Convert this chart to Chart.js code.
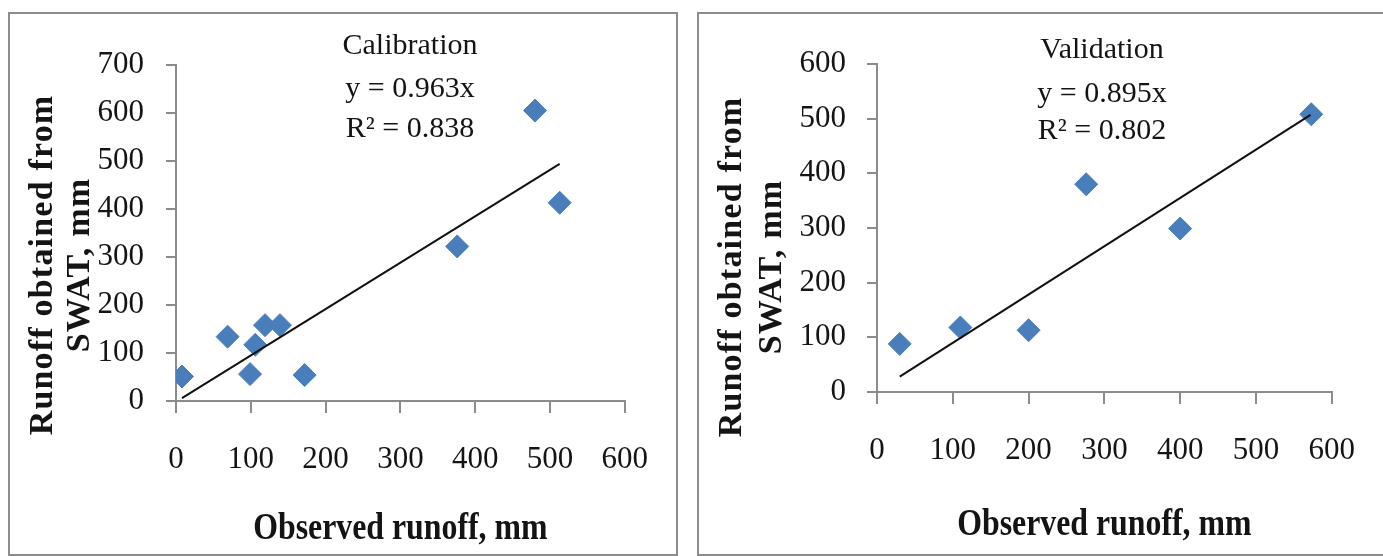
<!DOCTYPE html>
<html>
<head>
<meta charset="utf-8">
<script src="https://cdn.jsdelivr.net/npm/chart.js@4.4.1/dist/chart.umd.min.js"></script>
<style>
  body { margin: 0; background: #fff; width: 1383px; height: 556px; overflow: hidden; position: relative; }
  .panel { position: absolute; top: 12px; height: 540px; border: 2px solid #8c8c8c; background: #fff; }
  #p1 { left: 8px; width: 666px; }
  #p2 { left: 697px; width: 700px; }
  canvas { display: block; }
</style>
</head>
<body>
<div class="panel" id="p1"><canvas id="calibChart" width="666" height="540"></canvas></div>
<div class="panel" id="p2"><canvas id="validChart" width="684" height="540"></canvas></div>
<script>
// calibration data (observed vs SWAT)
const calibObserved  = [8, 69, 99, 106, 119, 139, 172, 376, 480, 513];
const calibSimulated = [51, 134, 56, 117, 158, 158, 54, 322, 605, 413];
const calibTrendX = [8, 513];
const calibTrendY = [6, 494];
const calibYTicks = [0, 100, 200, 300, 400, 500, 600, 700];
const calibText = ['Calibration', 'y = 0.963x', 'R² = 0.838'];

// validation data
const validObserved  = [30, 110, 200, 276, 400, 573];
const validSimulated = [88, 118, 113, 380, 299, 508];
const validTrendX = [30, 572];
const validTrendY = [28, 507];
const validYTicks = [0, 100, 200, 300, 400, 500, 600];
const validText = ['Validation', 'y = 0.895x', 'R² = 0.802'];

const xTicks = [0, 100, 200, 300, 400, 500, 600];
const xTitle = 'Observed runoff, mm';
const yTitle = ['Runoff obtained from', 'SWAT, mm'];

const serif = '"Liberation Serif", "Times New Roman", serif';
const axisGrey = '#8c8c8c';
const textColor = '#141414';

// axis titles + equation text
const panelText = {
    id: 'panelText',
    afterDraw(chart, args, opts) {
        const ctx = chart.ctx;
        const area = chart.chartArea;
        ctx.save();
        ctx.fillStyle = textColor;
        ctx.textAlign = 'center';
        ctx.textBaseline = 'middle';
        ctx.font = '30px ' + serif;
        opts.lines.forEach((t, i) => ctx.fillText(t, opts.cx, opts.ys[i]));

        // x title, a bit condensed like the original
        ctx.save();
        ctx.font = 'bold 37px ' + serif;
        ctx.translate((area.left + area.right) / 2, opts.xTitleY);
        ctx.scale(0.86, 1);
        ctx.fillText(xTitle, 0, 0);
        ctx.restore();

        ctx.font = 'bold 34px ' + serif;
        ctx.letterSpacing = '1.2px';
        opts.yTitle.forEach((t, i) => {
            ctx.save();
            ctx.translate(opts.yTitleX[i], opts.yTitleY);
            ctx.rotate(-Math.PI / 2);
            ctx.fillText(t, 0, 0);
            ctx.restore();
        });
        ctx.restore();
    }
};

function toPoints(xs, ys) {
    return xs.map((x, i) => ({ x: x, y: ys[i] }));
}

function makeChart(id, obs, sim, trendX, trendY, yTicks, text, box) {
    const ctx = document.getElementById(id).getContext('2d');
    return new Chart(ctx, {
        type: 'scatter',
        data: {
            datasets: [{
                type: 'line',
                data: toPoints(trendX, trendY),
                borderColor: '#111',
                borderWidth: 2,
                pointRadius: 0,
                fill: false
            }, {
                data: toPoints(obs, sim),
                pointStyle: 'rectRot',
                pointRadius: 11.5,
                backgroundColor: '#4a7ebb',
                borderColor: '#4a7ebb',
                borderWidth: 1
            }]
        },
        options: {
            responsive: false,
            animation: false,
            layout: { padding: { left: 0, top: box.top, right: box.right, bottom: 0 } },
            plugins: {
                legend: { display: false },
                tooltip: { enabled: false },
                panelText: {
                    lines: text,
                    cx: box.textX,
                    ys: box.textY,
                    xTitleY: box.xTitleY,
                    yTitle: yTitle,
                    yTitleX: box.yTitleX,
                    yTitleY: box.yTitleY
                }
            },
            scales: {
                x: {
                    type: 'linear',
                    min: xTicks[0],
                    max: xTicks[xTicks.length - 1],
                    afterBuildTicks: s => { s.ticks = xTicks.map(v => ({ value: v })); },
                    afterFit: s => { s.height = box.xHeight; },
                    border: { color: axisGrey, width: 2 },
                    grid: { drawOnChartArea: false, color: axisGrey, lineWidth: 2, tickLength: 12 },
                    ticks: { font: { family: serif, size: 31 }, color: textColor, padding: 28, maxRotation: 0 }
                },
                y: {
                    type: 'linear',
                    min: yTicks[0],
                    max: yTicks[yTicks.length - 1],
                    afterBuildTicks: s => { s.ticks = yTicks.map(v => ({ value: v })); },
                    afterFit: s => { s.width = box.yWidth; },
                    border: { color: axisGrey, width: 2 },
                    grid: { drawOnChartArea: false, color: axisGrey, lineWidth: 2, tickLength: 10 },
                    ticks: { font: { family: serif, size: 31 }, color: textColor, padding: box.yPad }
                }
            }
        },
        plugins: [panelText]
    });
}

makeChart('calibChart', calibObserved, calibSimulated, calibTrendX, calibTrendY, calibYTicks, calibText, {
    top: 51, right: 51, yWidth: 166, xHeight: 153, yPad: 22,
    textX: 400, textY: [32, 75, 115], xTitleY: 515, yTitleX: [33, 70], yTitleY: 251
});

makeChart('validChart', validObserved, validSimulated, validTrendX, validTrendY, validYTicks, validText, {
    top: 50, right: 34, yWidth: 178, xHeight: 162, yPad: 21,
    textX: 403, textY: [36, 80, 117], xTitleY: 511, yTitleX: [33, 73], yTitleY: 253
});
</script>
</body>
</html>
